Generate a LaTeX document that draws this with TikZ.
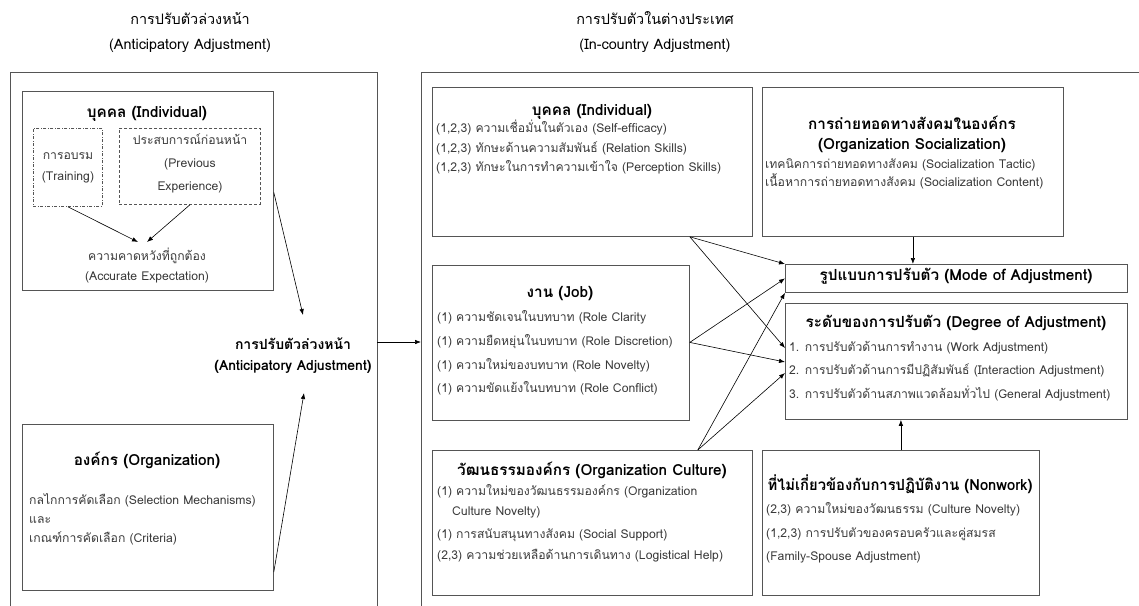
\documentclass[tikz,border=0pt]{standalone}
\usepackage{fontspec}
\usepackage{graphicx}
\setmainfont[Script=Thai]{Loma}
\usetikzlibrary{arrows.meta,calc}
\definecolor{boxc}{HTML}{555555}
\definecolor{txtc}{HTML}{3A3A3A}
\newsavebox\fbx
\newcommand\F[2]{\sbox\fbx{#2}\ifdim\wd\fbx>#1pt\relax\resizebox{#1pt}{\height}{\usebox\fbx}\else\usebox\fbx\fi}
\begin{document}
\begin{tikzpicture}[x=1pt,y=-1pt,
  box/.style={draw=boxc, line width=0.8pt, inner sep=0pt, anchor=north west},
  txt/.style={text=txtc, font=\fontsize{12.2}{14}\selectfont, inner sep=0pt},
  ttl/.style={text=black, font=\fontsize{15.3}{17}\selectfont\bfseries, inner sep=0pt},
  ctl/.style={text=black, font=\fontsize{14}{16}\selectfont\bfseries, inner sep=0pt},
  hdr/.style={text=black, font=\fontsize{14.4}{16}\selectfont, inner sep=0pt},
  arr/.style={-{Latex[length=6pt,width=4.5pt]}, line width=0.6pt, black},
  frame/.style={draw=boxc, line width=0.8pt}]
\useasboundingbox (0,0) rectangle (1139,605);
% headers
\node[hdr, anchor=mid] (h1a) at (190,22) {การปรับตัวล่วงหน้า};
\node[hdr, anchor=mid] (h1b) at (190,47) {(Anticipatory Adjustment)};
\node[hdr, anchor=mid] (h2a) at (655,22) {การปรับตัวในต่างประเทศ};
\node[hdr, anchor=mid] (h2b) at (655,47) {(In-country Adjustment)};
% outer frames
\coordinate (lf1) at (10,606); \coordinate (lf2) at (10,72);
\coordinate (lf3) at (377,72); \coordinate (lf4) at (377,606);
\draw[frame] (lf1) -- (lf2) -- (lf3) -- (lf4);
\coordinate (rf1) at (421,606); \coordinate (rf2) at (421,72); \coordinate (rf3) at (1140,72);
\draw[frame] (rf1) -- (rf2) -- (rf3);
% ---------- left part
\node[box, minimum width=251pt, minimum height=199pt] (lind) at (22,91) {};
\node[ttl, anchor=mid] (lindt) at (147,115) {บุคคล (Individual)};
\node[box, minimum width=69pt, minimum height=78pt, dash pattern=on 3pt off 1.5pt on 1pt off 1.5pt] (train) at (33,128) {};
\node[txt, anchor=mid] (train1) at (68,157) {\F{62}{การอบรม}};
\node[txt, anchor=mid] (train2) at (68,178) {\F{62}{(Training)}};
\node[box, minimum width=141pt, minimum height=76pt, dash pattern=on 3pt off 2pt] (prev) at (119,128) {};
\node[txt, anchor=mid] (prev1) at (190,142) {\F{134}{ประสบการณ์ก่อนหน้า}};
\node[txt, anchor=mid] (prev2) at (190,165) {(Previous};
\node[txt, anchor=mid] (prev3) at (190,188) {Experience)};
\node[txt, anchor=mid] (acc1) at (147,258) {ความคาดหวังที่ถูกต้อง};
\node[txt, anchor=mid] (acc2) at (147,278) {(Accurate Expectation)};
\coordinate (accL) at (138,242); \coordinate (accR) at (147,242);
\draw[arr] (train.south) -- (accL);
\draw[arr] (prev.south) -- (accR);

\node[box, minimum width=251pt, minimum height=166pt] (org) at (22,424) {};
\node[ttl, anchor=mid] (orgt) at (147,463) {\F{240}{องค์กร (Organization)}};
\node[txt, anchor=mid west] (org1) at (29,502) {\F{240}{กลไกการคัดเลือก (Selection Mechanisms)}};
\node[txt, anchor=mid west] (org2) at (29,521) {และ};
\node[txt, anchor=mid west] (org3) at (29,540) {\F{240}{เกณฑ์การคัดเลือก (Criteria)}};

\node[ctl, anchor=mid] (cent1) at (293,347) {การปรับตัวล่วงหน้า};
\node[ctl, anchor=mid] (cent2) at (293,368) {\F{162}{(Anticipatory Adjustment)}};
\coordinate (cin1) at (303,315); \coordinate (cin2) at (304,393);
\coordinate (orgout) at ($(org.north east)+(0,148)$);
\draw[arr] ($(lind.east)+(0,1.5)$) -- (cin1);
\draw[arr] (orgout) -- (cin2);
\coordinate (lout) at (377,342); \coordinate (rin) at (421,342);
\draw[arr] (lout) -- (rin);

% ---------- right part
\node[box, minimum width=320pt, minimum height=149pt] (rind) at (432,87) {};
\node[ttl, anchor=mid] (rindt) at (592,113) {บุคคล (Individual)};
\node[txt, anchor=mid west] (rind1) at (436,130) {\F{312}{(1,2,3) ความเชื่อมั่นในตัวเอง (Self-efficacy)}};
\node[txt, anchor=mid west] (rind2) at (436,150) {\F{312}{(1,2,3) ทักษะด้านความสัมพันธ์ (Relation Skills)}};
\node[txt, anchor=mid west] (rind3) at (436,169) {\F{312}{(1,2,3) ทักษะในการทำความเข้าใจ (Perception Skills)}};

\node[box, minimum width=301pt, minimum height=149pt] (soc) at (762,87) {};
\node[ttl, anchor=mid] (soct1) at (912,127) {\F{290}{การถ่ายทอดทางสังคมในองค์กร}};
\node[ttl, anchor=mid] (soct2) at (912,147) {\F{290}{(Organization Socialization)}};
\node[txt, anchor=mid west] (soc1) at (765,166) {\F{294}{เทคนิคการถ่ายทอดทางสังคม (Socialization Tactic)}};
\node[txt, anchor=mid west] (soc2) at (765,184) {\F{294}{เนื้อหาการถ่ายทอดทางสังคม (Socialization Content)}};

\node[box, minimum width=342pt, minimum height=28pt] (mode) at (785,264) {};
\node[ttl, anchor=mid] (modet) at (956,278) {\F{318}{รูปแบบการปรับตัว (Mode of Adjustment)}};

\node[box, minimum width=342pt, minimum height=116pt] (deg) at (785,303) {};
\node[ttl, anchor=mid] (degt) at (956,325) {\F{328}{ระดับของการปรับตัว (Degree of Adjustment)}};
\node[txt, anchor=mid west] (deg1) at (789,349) {\F{332}{1. การปรับตัวด้านการทำงาน (Work Adjustment)}};
\node[txt, anchor=mid west] (deg2) at (789,372) {\F{332}{2. การปรับตัวด้านการมีปฏิสัมพันธ์ (Interaction Adjustment)}};
\node[txt, anchor=mid west] (deg3) at (789,396) {\F{332}{3. การปรับตัวด้านสภาพแวดล้อมทั่วไป (General Adjustment)}};

\node[box, minimum width=257pt, minimum height=155pt] (job) at (432,265) {};
\node[ttl, anchor=mid] (jobt) at (560,295) {งาน (Job)};
\node[txt, anchor=mid west] (job1) at (437,319) {\F{246}{(1) ความชัดเจนในบทบาท (Role Clarity}};
\node[txt, anchor=mid west] (job2) at (437,343) {\F{246}{(1) ความยืดหยุ่นในบทบาท (Role Discretion)}};
\node[txt, anchor=mid west] (job3) at (437,367) {\F{246}{(1) ความใหม่ของบทบาท (Role Novelty)}};
\node[txt, anchor=mid west] (job4) at (437,390) {\F{246}{(1) ความขัดแย้งในบทบาท (Role Conflict)}};

\node[box, minimum width=320pt, minimum height=145pt] (cult) at (432,450) {};
\node[ttl, anchor=mid] (cultt) at (592,473) {\F{310}{วัฒนธรรมองค์กร (Organization Culture)}};
\node[txt, anchor=mid west] (cult1) at (437,493) {\F{310}{(1) ความใหม่ของวัฒนธรรมองค์กร (Organization}};
\node[txt, anchor=mid west] (cult2) at (452,513) {Culture Novelty)};
\node[txt, anchor=mid west] (cult3) at (437,536) {\F{310}{(1) การสนับสนุนทางสังคม (Social Support)}};
\node[txt, anchor=mid west] (cult4) at (437,557) {\F{310}{(2,3) ความช่วยเหลือด้านการเดินทาง (Logistical Help)}};

\node[box, minimum width=277pt, minimum height=145pt] (nonw) at (762,450) {};
\node[ttl, anchor=mid] (nonwt) at (900,488) {\F{265}{ที่ไม่เกี่ยวข้องกับการปฏิบัติงาน (Nonwork)}};
\node[txt, anchor=mid west] (nonw1) at (766,511) {\F{268}{(2,3) ความใหม่ของวัฒนธรรม (Culture Novelty)}};
\node[txt, anchor=mid west] (nonw2) at (766,535) {\F{268}{(1,2,3) การปรับตัวของครอบครัวและคู่สมรส}};
\node[txt, anchor=mid west] (nonw3) at (766,558) {\F{268}{(Family-Spouse Adjustment)}};

% connectors
\coordinate (iout) at ($(rind.south east)+(-63,0)$);
\coordinate (jout) at ($(job.east)+(0,-0.5)$);
\coordinate (cout) at ($(cult.north east)+(-55,0)$);
\coordinate (m1) at (mode.north west);
\coordinate (m2) at (mode.west);
\coordinate (m3) at (mode.south west);
\coordinate (d1) at ($(deg.north west)+(0,45)$);
\coordinate (d2) at ($(deg.north west)+(0,59)$);
\coordinate (d3) at ($(deg.north west)+(0,70)$);
\draw[arr] (iout) -- (m1);
\draw[arr] (iout) -- (d1);
\draw[arr] (jout) -- (m2);
\draw[arr] (jout) -- (d2);
\draw[arr] (cout) -- (m3);
\draw[arr] (cout) -- (d3);
\draw[arr] (soc.south) -- (soc.south |- mode.north);
\draw[arr] (nonw.north) -- (nonw.north |- deg.south);
\end{tikzpicture}
\end{document}
